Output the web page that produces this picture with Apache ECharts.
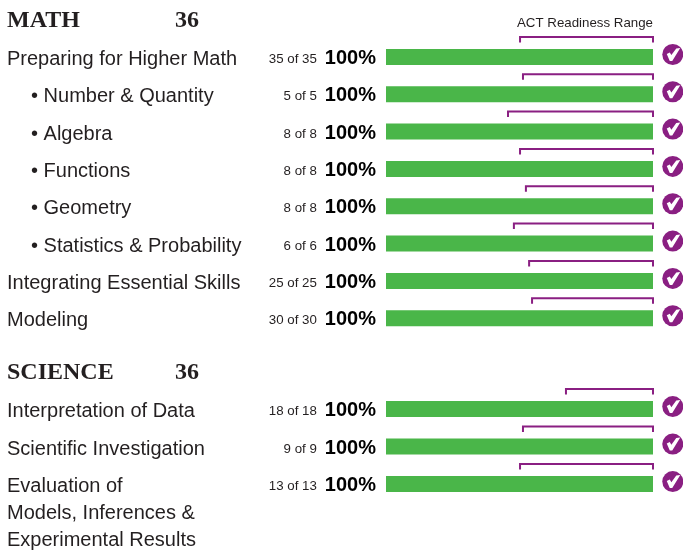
<!DOCTYPE html>
<html>
<head>
<meta charset="utf-8">
<style>
  html, body { margin: 0; padding: 0; background: #fff; }
  #main { width: 683px; height: 551px; }
</style>
<script src="https://cdn.jsdelivr.net/npm/echarts@6/dist/echarts.min.js"></script>
</head>
<body>
<div id="main"></div>
<script>
// math rows
const mathNames = ['Preparing for Higher Math', 'Number & Quantity', 'Algebra', 'Functions', 'Geometry',
                   'Statistics & Probability', 'Integrating Essential Skills', 'Modeling'];
const mathSub = [false, true, true, true, true, true, false, false];
const mathCorrect = [35, 5, 8, 8, 8, 6, 25, 30];
const mathTotal = [35, 5, 8, 8, 8, 6, 25, 30];
const mathPercent = [100, 100, 100, 100, 100, 100, 100, 100];
const mathRange = [50.2, 51.3, 45.7, 50.2, 52.4, 47.9, 53.6, 54.7];

// science rows
const sciNames = ['Interpretation of Data', 'Scientific Investigation', 'Evaluation of\nModels, Inferences &\nExperimental Results'];
const sciSub = [false, false, false];
const sciCorrect = [18, 9, 13];
const sciTotal = [18, 9, 13];
const sciPercent = [100, 100, 100];
const sciRange = [67.4, 51.3, 50.2];

const GREEN = '#4ab649';
const PURPLE = '#8a1f82';
const INK = '#231f20';
const ICON_AT = 107.4; // icons sit past the end of the 100% bar

const checkPoints = [[-6, -0.5], [-3, -2], [-1.4, 0.6], [3.5, -6], [7.5, -6.5], [-0.5, 6.5], [-3, 6.5]];

function rowLabels(names, sub) {
  return names.map(function (n, i) {
    if (sub[i]) return { value: '• ' + n, textStyle: { align: 'left', verticalAlign: 'top', padding: [-9.5, 0, 0, 24] } };
    // first line of a wrapped label stays level with the bar
    const lines = n.split('\n').length;
    if (lines > 1) return { value: n, textStyle: { align: 'left', verticalAlign: 'top', lineHeight: 27, padding: [-11, 0, 0, 0] } };
    return n;
  });
}

function renderBracket(params, api) {
  const start = api.coord([api.value(0), api.value(1)]);
  const end = api.coord([100, api.value(1)]);
  const top = start[1] - 20;
  return {
    type: 'polyline',
    shape: { points: [[start[0], top + 5.5], [start[0], top], [end[0], top], [end[0], top + 5.5]] },
    style: { stroke: PURPLE, lineWidth: 2, fill: null }
  };
}

function renderCheck(params, api) {
  const c = api.coord([api.value(0), api.value(1)]);
  const cy = c[1] - 2.5;
  return {
    type: 'group',
    x: c[0],
    y: cy,
    children: [
      { type: 'circle', shape: { cx: 0, cy: 0, r: 10.5 }, style: { fill: PURPLE } },
      { type: 'polygon', shape: { points: checkPoints }, style: { fill: '#fff' } }
    ]
  };
}

function section(idx, names, correct, total, percent, range) {
  return [
    {
      type: 'bar',
      xAxisIndex: idx,
      yAxisIndex: idx,
      barWidth: 16,
      data: percent,
      itemStyle: { color: GREEN },
      silent: true,
      label: {
        show: true,
        position: 'left',
        distance: 10,
        offset: [0, 1.5],
        formatter: function (p) {
          return '{n|' + correct[p.dataIndex] + ' of ' + total[p.dataIndex] + '}{p|' + p.value + '%}';
        },
        rich: {
          n: { fontFamily: 'Liberation Sans', fontSize: 13.3, color: INK, padding: [2, 8, 0, 0] },
          p: { fontFamily: 'Liberation Sans', fontSize: 20, fontWeight: 'bold', color: '#000' }
        }
      }
    },
    {
      type: 'custom',
      xAxisIndex: idx,
      yAxisIndex: idx,
      renderItem: renderBracket,
      encode: { x: 0, y: 1 },
      data: range.map(function (v, i) { return [v, i]; }),
      clip: false,
      silent: true
    },
    {
      type: 'custom',
      xAxisIndex: idx,
      yAxisIndex: idx,
      renderItem: renderCheck,
      encode: { x: 0, y: 1 },
      data: names.map(function (n, i) { return [ICON_AT, i]; }),
      clip: false,
      silent: true
    }
  ];
}

function yAxisFor(idx, names, sub) {
  return {
    type: 'category',
    gridIndex: idx,
    inverse: true,
    data: rowLabels(names, sub),
    axisLine: { show: false },
    axisTick: { show: false },
    splitLine: { show: false },
    axisLabel: {
      interval: 0,
      align: 'left',
      verticalAlign: 'top',
      margin: 379,
      padding: [-9.5, 0, 0, 0],
      lineHeight: 24,
      fontFamily: 'Liberation Sans',
      fontSize: 20,
      color: INK
    }
  };
}

function xAxisFor(idx) {
  return { type: 'value', gridIndex: idx, min: 0, max: 110, show: false, splitLine: { show: false } };
}

function heading(text, left, top) {
  return {
    text: text,
    left: left,
    top: top,
    padding: 0,
    textStyle: { fontFamily: 'Liberation Serif', fontSize: 24, fontWeight: 'bold', color: INK }
  };
}

var myChart = echarts.init(document.getElementById('main'), null, { renderer: 'canvas' });
myChart.setOption({
  animation: false,
  backgroundColor: '#fff',
  title: [
    heading('MATH', 7, 9),
    heading('36', 175, 9),
    heading('SCIENCE', 7, 361),
    heading('36', 175, 361),
    {
      text: 'ACT Readiness Range',
      left: 517,
      top: 17,
      padding: 0,
      textStyle: { fontFamily: 'Liberation Sans', fontSize: 13.3, fontWeight: 'normal', color: INK }
    }
  ],
  grid: [
    { left: 386, top: 38.3, width: 293.7, height: 298.6, outerBoundsMode: 'none' },
    { left: 386, top: 390.3, width: 293.7, height: 112.5, outerBoundsMode: 'none' }
  ],
  xAxis: [xAxisFor(0), xAxisFor(1)],
  yAxis: [yAxisFor(0, mathNames, mathSub), yAxisFor(1, sciNames, sciSub)],
  series: section(0, mathNames, mathCorrect, mathTotal, mathPercent, mathRange)
    .concat(section(1, sciNames, sciCorrect, sciTotal, sciPercent, sciRange))
});
</script>
</body>
</html>
